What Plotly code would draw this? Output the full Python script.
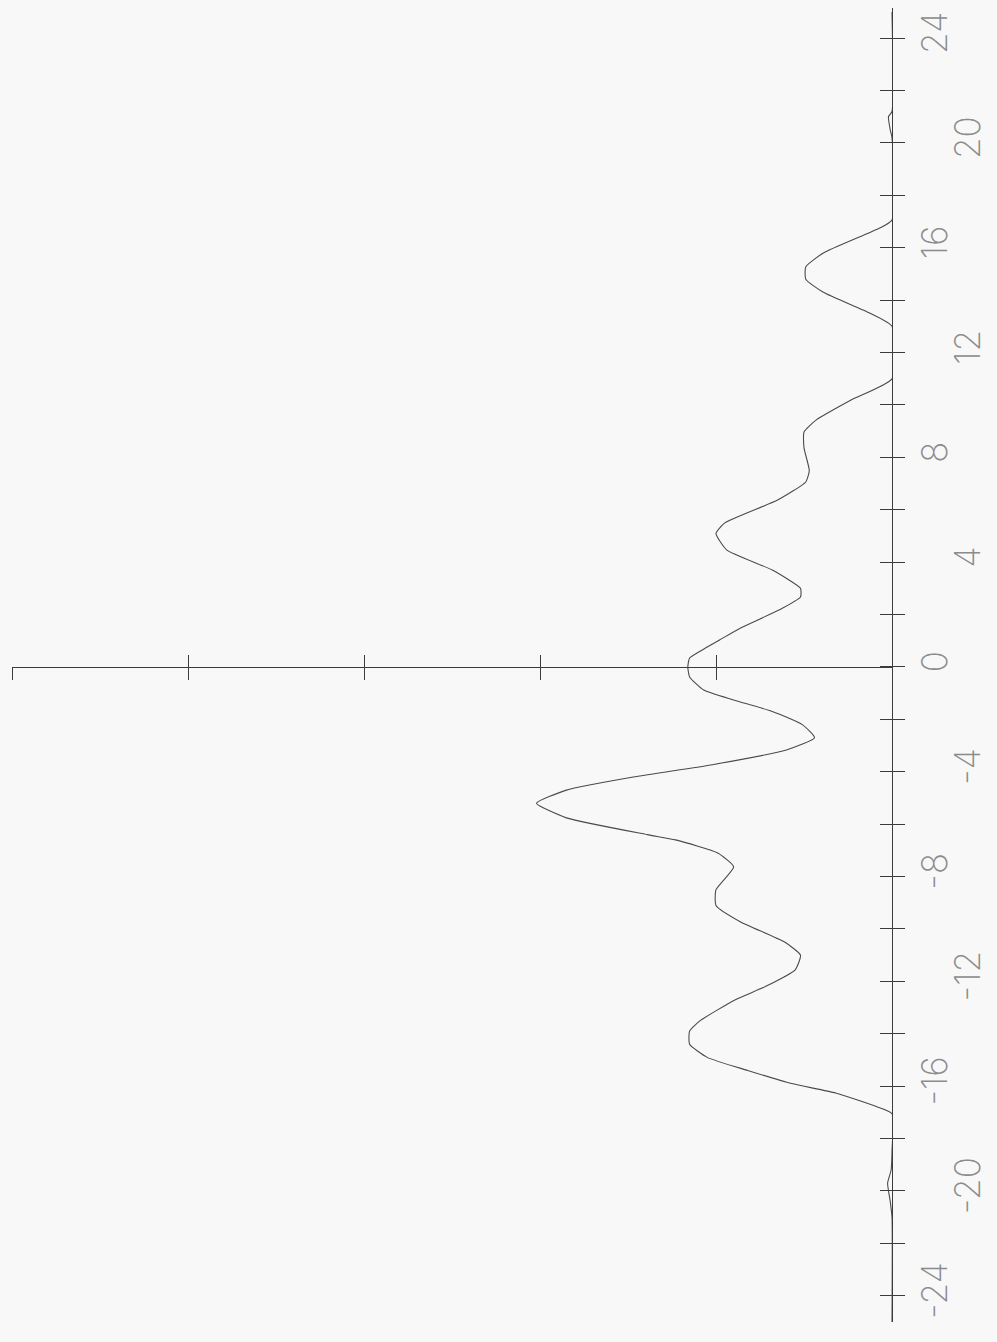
import plotly.graph_objects as go

# Profile sampled along the position axis (horizontal coordinate of the scan)
position = [-25.0, -21.0, -20.4, -19.7, -19.2, -18.5, -17.05, -16.8, -16.26, -15.9,
            -15.4, -14.9, -14.4, -13.9, -13.5, -12.7, -12.2, -11.56, -11.0, -10.5,
            -9.73, -9.1, -8.5, -7.63, -7.1, -6.6, -6.4, -5.76, -5.2, -4.7,
            -4.2, -3.73, -3.17, -2.7, -2.2, -1.7, -1.26, -0.88, -0.38, 0.0,
            0.34, 0.76, 1.03, 1.49, 2.18, 2.67, 3.0, 3.7, 4.47, 5.1,
            5.5, 6.37, 7.06, 7.5, 8.36, 8.97, 9.43, 10.2, 11.0, 13.0,
            13.5, 14.3, 14.8, 15.27, 15.8, 16.75, 17.06, 20.2, 20.5, 21.0,
            21.2, 25.0]
amplitude = [0.0, 0.0, 0.01, 0.025, 0.005, 0.0, 0.0, 0.08, 0.32, 0.57,
             0.82, 1.05, 1.15, 1.15, 1.09, 0.89, 0.72, 0.55, 0.52, 0.61,
             0.86, 1.0, 1.0, 0.9, 0.99, 1.23, 1.39, 1.85, 2.02, 1.85,
             1.47, 1.02, 0.6, 0.44, 0.51, 0.68, 0.9, 1.07, 1.15, 1.16,
             1.15, 1.05, 0.98, 0.86, 0.64, 0.52, 0.52, 0.68, 0.94, 1.0,
             0.95, 0.65, 0.49, 0.47, 0.5, 0.5, 0.43, 0.23, 0.0, 0.0,
             0.125, 0.39, 0.49, 0.49, 0.39, 0.07, 0.0, 0.0, 0.01, 0.02,
             0.0, 0.0]

# Axis ticks
position_ticks = list(range(-24, 25, 2))
labels_near = [-24, -16, -8, 0, 8, 16, 24]
labels_far = [-20, -12, -4, 4, 12, 20]
amplitude_ticks = [1, 2, 3, 4, 5]

POS_RANGE = [-25.0, 25.15]
AMP_RANGE = [5.0, 0.0]

INK = "#3c3c3c"
LABEL = "#8c8c8c"
PAPER = "#f8f8f8"


def tick_text(vals, shown):
    return [(str(v) if v in shown else "") for v in vals]


zero_frac = (0 - POS_RANGE[0]) / (POS_RANGE[1] - POS_RANGE[0])

fig = go.Figure()
fig.add_trace(go.Scatter(
    x=amplitude, y=position, mode="lines", line_shape="spline",
    line=dict(color="#4a4a4a", width=1.1, smoothing=0.5),
    xaxis="x", yaxis="y", showlegend=False, hoverinfo="skip",
))
# transparent copy so the overlaid tick axes are rendered
fig.add_trace(go.Scatter(
    x=amplitude, y=position, mode="lines",
    line=dict(color="rgba(0,0,0,0)", width=1),
    xaxis="x2", yaxis="y2", showlegend=False, hoverinfo="skip",
))

label_font = dict(family="Inter", size=35, color=LABEL, weight=200)

fig.update_layout(
    width=997, height=1342,
    margin=dict(l=12, r=105, t=8, b=20),
    paper_bgcolor=PAPER, plot_bgcolor=PAPER,
    xaxis=dict(
        range=AMP_RANGE, anchor="free", position=zero_frac,
        showgrid=False, zeroline=False, showline=True, linecolor=INK, linewidth=1,
        tickmode="array", tickvals=amplitude_ticks, ticks="outside", ticklen=12,
        tickcolor=INK, tickwidth=1, showticklabels=False,
    ),
    xaxis2=dict(
        range=AMP_RANGE, overlaying="x", anchor="free", position=zero_frac,
        showgrid=False, zeroline=False, showline=False,
        tickmode="array", tickvals=amplitude_ticks, ticks="inside", ticklen=12,
        tickcolor=INK, tickwidth=1, showticklabels=False,
    ),
    yaxis=dict(
        range=POS_RANGE, side="right", anchor="x",
        showgrid=False, zeroline=False, showline=True, linecolor=INK, linewidth=1,
        tickmode="array", tickvals=position_ticks,
        ticktext=tick_text(position_ticks, labels_near),
        ticks="outside", ticklen=12, tickcolor=INK, tickwidth=1,
        tickangle=-90, tickfont=label_font, ticklabelstandoff=0,
    ),
    yaxis2=dict(
        range=POS_RANGE, side="right", anchor="x", overlaying="y",
        showgrid=False, zeroline=False, showline=False,
        tickmode="array", tickvals=position_ticks,
        ticktext=tick_text(position_ticks, labels_far),
        ticks="inside", ticklen=12, tickcolor=INK, tickwidth=1,
        tickangle=-90, tickfont=label_font, ticklabelstandoff=52,
    ),
)

fig.write_html("out.html")
